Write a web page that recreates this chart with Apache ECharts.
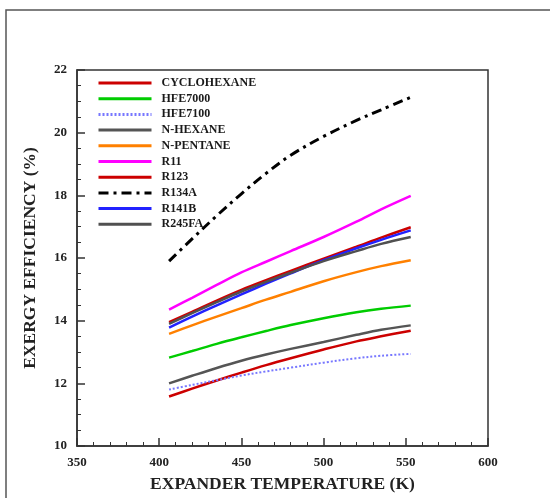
<!DOCTYPE html>
<html>
<head>
<meta charset="utf-8">
<script src="https://cdn.jsdelivr.net/npm/echarts@6/dist/echarts.min.js"></script>
<style>html,body{margin:0;padding:0;background:#fff}#c{width:550px;height:498px}</style>
</head>
<body>
<div id="c"></div>
<script>
// Expander temperature (K)
var temps = [406, 420, 435, 450, 465, 480, 500, 520, 535, 553];
var seriesNames = ["CYCLOHEXANE","HFE7000","HFE7100","N-HEXANE","N-PENTANE","R11","R123","R134A","R141B","R245FA"];
// Exergy efficiency (%)
var cyclohexane = [11.58, 11.83, 12.09, 12.34, 12.58, 12.80, 13.08, 13.34, 13.50, 13.68];
var hfe7000     = [12.82, 13.03, 13.26, 13.47, 13.67, 13.86, 14.08, 14.27, 14.38, 14.48];
var hfe7100     = [11.80, 11.95, 12.10, 12.25, 12.38, 12.50, 12.66, 12.80, 12.88, 12.94];
var nHexane     = [12.00, 12.24, 12.49, 12.72, 12.92, 13.10, 13.32, 13.55, 13.71, 13.85];
var nPentane    = [13.58, 13.85, 14.13, 14.40, 14.67, 14.92, 15.26, 15.55, 15.74, 15.93];
var r11         = [14.35, 14.73, 15.14, 15.54, 15.88, 16.22, 16.67, 17.16, 17.55, 17.98];
var r123        = [13.95, 14.28, 14.64, 14.98, 15.29, 15.59, 15.98, 16.36, 16.65, 16.98];
var r134a       = [15.90, 16.61, 17.35, 18.05, 18.70, 19.28, 19.88, 20.39, 20.73, 21.13];
var r141b       = [13.78, 14.13, 14.49, 14.84, 15.18, 15.51, 15.93, 16.31, 16.58, 16.88];
var r245fa      = [13.90, 14.24, 14.59, 14.93, 15.24, 15.53, 15.90, 16.22, 16.45, 16.67];
var xTicks = [350, 400, 450, 500, 550, 600];
var yTicks = [10, 12, 14, 16, 18, 20, 22];

var values = [cyclohexane, hfe7000, hfe7100, nHexane, nPentane, r11, r123, r134a, r141b, r245fa];
var styles = [
  {color:'#cc0000', type:'solid', width:2.5},
  {color:'#00cc00', type:'solid', width:2.5},
  {color:'#7777ff', type:[2,2], width:2},
  {color:'#555555', type:'solid', width:2.5},
  {color:'#ff8000', type:'solid', width:2.5},
  {color:'#ff00ff', type:'solid', width:2.5},
  {color:'#cc0000', type:'solid', width:2.5},
  {color:'#000000', type:[10,5,3,5], width:3},
  {color:'#2222ff', type:'solid', width:2.5},
  {color:'#505050', type:'solid', width:2.5}
];
var font = '"Liberation Serif", "DejaVu Serif", serif';

var series = seriesNames.map(function(n, i){
  return {
    name: n, type: 'line', showSymbol: false, symbol: 'none', smooth: 0.35,
    data: temps.map(function(t, j){ return [t, values[i][j]]; }),
    itemStyle: {color: styles[i].color},
    lineStyle: {color: styles[i].color, type: styles[i].type, width: styles[i].width}
  };
});

var chart = echarts.init(document.getElementById('c'), null, {renderer:'canvas'});
chart.setOption({
  animation: false,
  backgroundColor: '#fff',
  graphic: [{
    type: 'rect', shape: {x: 6, y: 10, width: 700, height: 700},
    style: {fill: 'none', stroke: '#555', lineWidth: 1.5}, z: -10
  }],
  grid: {left: 77, right: 62, top: 70, bottom: 49, show: true, borderColor: '#333', borderWidth: 1.5, backgroundColor: 'transparent'},
  legend: {
    orient: 'vertical', left: 97, top: 77, padding: 0,
    itemWidth: 53, itemHeight: 11, itemGap: 3.7,
    data: seriesNames,
    itemStyle: {color: 'rgba(0,0,0,0)', borderColor: 'rgba(0,0,0,0)', borderWidth: 0},
    lineStyle: {width: 3},
    textStyle: {fontFamily: font, fontWeight: 'bold', fontSize: 12, color: '#1a1a1a', lineHeight: 11, padding: [0,0,0,5]},
    selectedMode: false
  },
  xAxis: {
    type: 'value', min: xTicks[0], max: xTicks[xTicks.length-1], interval: 50,
    name: 'EXPANDER TEMPERATURE (K)', nameLocation: 'middle', nameGap: 29,
    nameTextStyle: {fontFamily: font, fontWeight: 'bold', fontSize: 17.5, color: '#222'},
    axisLine: {show: true, lineStyle: {color: '#333', width: 1.5}},
    axisTick: {show: true, inside: true, length: 8, lineStyle: {color: '#333', width: 1.5}},
    minorTick: {show: true, splitNumber: 5, length: 4, lineStyle: {color: '#333', width: 1}},
    axisLabel: {fontFamily: font, fontWeight: 'bold', fontSize: 13, color: '#222', margin: 10},
    splitLine: {show: false}
  },
  yAxis: {
    type: 'value', min: yTicks[0], max: yTicks[yTicks.length-1], interval: 2,
    name: 'EXERGY EFFICIENCY (%)', nameLocation: 'middle', nameGap: 38,
    nameTextStyle: {fontFamily: font, fontWeight: 'bold', fontSize: 17.5, color: '#222'},
    axisLine: {show: true, lineStyle: {color: '#333', width: 1.5}},
    axisTick: {show: true, inside: true, length: 8, lineStyle: {color: '#333', width: 1.5}},
    minorTick: {show: true, splitNumber: 4, length: 4, lineStyle: {color: '#333', width: 1}},
    axisLabel: {fontFamily: font, fontWeight: 'bold', fontSize: 13, color: '#222', margin: 10},
    splitLine: {show: false}
  },
  series: series
});
</script>
</body>
</html>
